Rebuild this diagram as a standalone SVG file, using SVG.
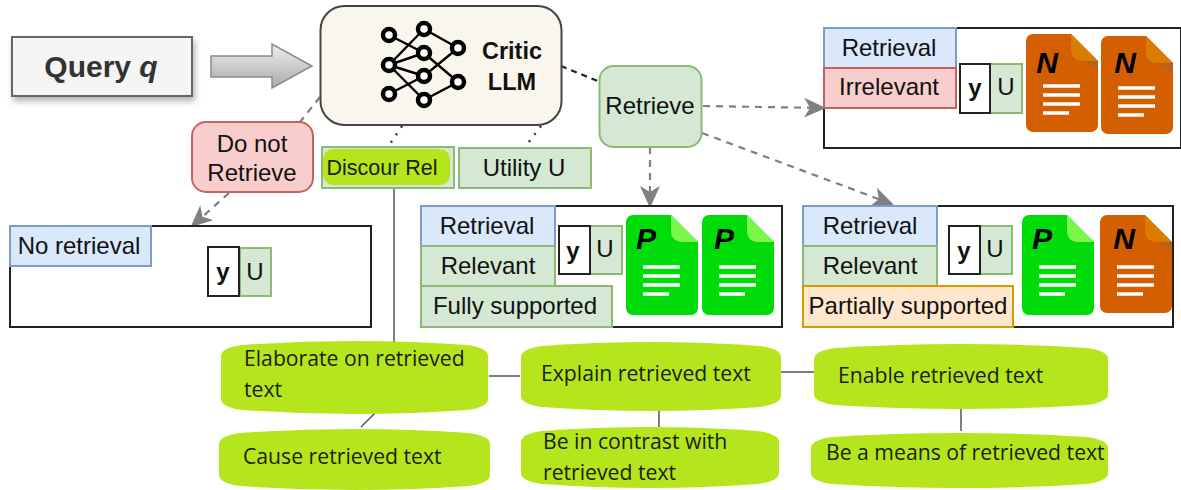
<svg xmlns="http://www.w3.org/2000/svg" width="1181" height="490" viewBox="0 0 1181 490">
<style>
text{font-family:"Liberation Sans",Arial,sans-serif;fill:#111;text-anchor:middle}
.t24{font-size:24px}
.lime{fill:#b5e61d}
.lt{font-family:"Open Sans","Noto Sans",sans-serif;font-size:21.200px;text-anchor:start;fill:#1a2200}
.blue{fill:#dae8fc;stroke:#7c9dcc;stroke-width:2}
.green{fill:#d5e8d4;stroke:#8cb975;stroke-width:2}
.red{fill:#f8cecc;stroke:#c46460;stroke-width:2}
.orange{fill:#ffe6cc;stroke:#d79b00;stroke-width:2}
.frame{fill:#fff;stroke:#222;stroke-width:2}
.yb{fill:#fff;stroke:#222;stroke-width:2}
.y{font-weight:bold;font-size:24px}
.dl{font-weight:bold;font-style:italic;font-size:30px;fill:#000}
.gd{fill:none;stroke:#808080;stroke-width:2.2;stroke-dasharray:7 6}
.bd{fill:none;stroke:#222;stroke-width:2.2;stroke-dasharray:6 5}
.dot{fill:none;stroke:#333;stroke-width:2.4;stroke-dasharray:2 7}
.sl{fill:none;stroke:#555;stroke-width:1.5}
.net{fill:none;stroke:#000;stroke-width:2.4}
.nd{fill:#fff;stroke:#000;stroke-width:4.500px}
.rule{stroke:#fff;stroke-width:3.5;fill:none}
</style>
<defs>
<linearGradient id="ag" x1="0" y1="0" x2="0" y2="1"><stop offset="0" stop-color="#efefef"/><stop offset="1" stop-color="#a9a9a9"/></linearGradient>
<filter id="sh" x="-10%" y="-10%" width="125%" height="130%"><feDropShadow dx="2" dy="4" stdDeviation="3" flood-color="#000" flood-opacity="0.3"/></filter>
<marker id="ah" markerWidth="22" markerHeight="20" refX="20" refY="10" orient="auto" markerUnits="userSpaceOnUse"><path d="M0 0L22 10L0 20L6 10Z" fill="#808080"/></marker>
<g id="docN"><path d="M7 0H45L72 27V91a7 7 0 0 1-7 7H7a7 7 0 0 1-7-7V7a7 7 0 0 1 7-7Z" fill="#d35f00"/><path d="M45 18a9 9 0 0 0 9 9H72V36Z" fill="#a9652a" opacity=".85"/><path d="M45 0V17a10 10 0 0 0 10 10H72Z" fill="#d97c00"/><path class="rule" d="M17 52H54M17 61H54M17 70H54M17 79H43"/></g>
<g id="docP"><path d="M7 0H45L72 27V93a7 7 0 0 1-7 7H7a7 7 0 0 1-7-7V7a7 7 0 0 1 7-7Z" fill="#00dc0a"/><path d="M45 0L72 27H55a10 10 0 0 1-10-10Z" fill="#7cf54c"/><path class="rule" d="M17 52H54M17 61H54M17 70H54M17 79H43"/></g>
</defs>

<g id="connectors">
<path class="gd" d="M320 97L300 122"/>
<path class="gd" d="M229 193L192 226" marker-end="url(#ah)"/>
<path class="bd" d="M561 66L600 82"/>
<path class="dot" d="M402 126L388 147"/>
<path class="dot" d="M541 126L525 147"/>
<path class="gd" d="M703 106L824 108" marker-end="url(#ah)"/>
<path class="gd" d="M650 147V206" marker-end="url(#ah)"/>
<path class="gd" d="M702 133L892 204" marker-end="url(#ah)"/>
<path class="sl" d="M394 188V343M489 376H520M780 372H814M375 413L361 427M659 410V427M961 409V431"/>
</g>

<g id="query"><rect x="12" y="37" width="180" height="59" fill="#f5f5f5" stroke="#666" stroke-width="2" filter="url(#sh)"/><text x="101" y="77" font-size="30" font-weight="bold" style="fill:#333">Query <tspan font-style="italic">q</tspan></text></g>
<g id="bigarrow"><path d="M211 56H272V44L312 66L272 88V77H211Z" fill="url(#ag)" stroke="#8a8a8a" stroke-width="1.5"/></g>

<g id="critic"><rect x="320.500" y="6" width="241" height="119" rx="24" fill="#f9f7ed" stroke="#444" stroke-width="2"/>
<path class="net" d="M389 35L424 53L458 82M424 29L389 65M424 29L458 48M389 65L424 53M389 65L424 76M389 65L424 100M389 94L424 76L458 48M424 100L458 82"/>
<g class="nd"><circle cx="389" cy="35" r="6"/><circle cx="424" cy="29" r="6"/><circle cx="458" cy="48" r="6"/><circle cx="424" cy="53" r="6"/><circle cx="389" cy="65" r="6"/><circle cx="424" cy="76" r="6"/><circle cx="458" cy="82" r="6"/><circle cx="389" cy="94" r="6"/><circle cx="424" cy="100" r="6"/></g>
<text x="512" y="59" font-size="23.500" font-weight="bold">Critic</text><text x="512" y="90" font-size="23.500" font-weight="bold">LLM</text></g>

<g id="donot"><rect x="192" y="122" width="121" height="70" rx="14" class="red"/><text class="t24" x="252" y="152">Do not</text><text class="t24" x="252" y="181">Retrieve</text></g>
<g id="discour"><rect x="322" y="147" width="132" height="41" class="green"/><rect x="323" y="149" width="127" height="36" rx="10" class="lime"/><text x="382" y="175" font-size="21.500" style="fill:#1a2200">Discour Rel</text></g>
<g id="utility"><rect x="459" y="148" width="132" height="40" class="green"/><text class="t24" x="524" y="176">Utility U</text></g>
<g id="retrieve"><rect x="599.500" y="66" width="102" height="81" rx="14" class="green"/><text class="t24" x="650" y="114">Retrieve</text></g>

<g id="box-irrelevant"><rect x="824" y="28" width="357" height="120" class="frame"/>
<rect x="824" y="28" width="132" height="40" class="blue"/><text class="t24" x="889" y="56">Retrieval</text>
<rect x="824" y="68" width="132" height="40" class="red"/><text class="t24" x="889" y="95">Irrelevant</text>
<rect x="990" y="64" width="32" height="49" class="green"/><text class="t24" x="1006" y="95">U</text>
<rect x="960" y="64" width="30" height="49" class="yb"/><text class="y" x="975" y="96">y</text>
<use href="#docN" x="1026" y="34"/><text class="dl" x="1047" y="73">N</text>
<use href="#docN" x="1101" y="36"/><text class="dl" x="1125" y="73">N</text></g>

<g id="box-fully"><rect x="421" y="206" width="361" height="121" class="frame"/>
<rect x="421" y="206" width="134" height="40" class="blue"/><text class="t24" x="487" y="234">Retrieval</text>
<rect x="421" y="246" width="134" height="40" class="green"/><text class="t24" x="488" y="274">Relevant</text>
<rect x="421" y="286" width="191" height="41" class="green"/><text class="t24" x="515" y="314">Fully supported</text>
<rect x="590" y="226" width="32" height="48" class="green"/><text class="t24" x="605" y="257">U</text>
<rect x="559" y="226" width="31" height="48" class="yb"/><text class="y" x="573" y="259">y</text>
<use href="#docP" x="626" y="215"/><text class="dl" x="646" y="249">P</text>
<use href="#docP" x="702" y="215"/><text class="dl" x="724" y="249">P</text></g>

<g id="box-partial"><rect x="803" y="206" width="370" height="121" class="frame"/>
<rect x="803" y="206" width="134" height="40" class="blue"/><text class="t24" x="870" y="234">Retrieval</text>
<rect x="803" y="246" width="134" height="40" class="green"/><text class="t24" x="870" y="274">Relevant</text>
<rect x="803" y="286" width="210" height="41" class="orange"/><text class="t24" x="908" y="314">Partially supported</text>
<rect x="980" y="226" width="32" height="48" class="green"/><text class="t24" x="995" y="257">U</text>
<rect x="949" y="226" width="31" height="48" class="yb"/><text class="y" x="964" y="259">y</text>
<use href="#docP" x="1022" y="215"/><text class="dl" x="1042" y="249">P</text>
<use href="#docN" x="1100" y="215"/><text class="dl" x="1124" y="249">N</text></g>

<g id="box-none"><rect x="10" y="226" width="361" height="101" class="frame"/>
<rect x="10" y="226" width="141" height="40" class="blue"/><text class="t24" x="79" y="254">No retrieval</text>
<rect x="240" y="248" width="31" height="48" class="green"/><text class="t24" x="255" y="280">U</text>
<rect x="208" y="247" width="31" height="49" class="yb"/><text class="y" x="223" y="280">y</text></g>

<g id="n-elaborate"><path class="lime" d="M221 356Q221 348 242 345Q355 337 467 345Q488 348 488 356V399Q488 407 467 410Q355 418 242 410Q221 407 221 399Z"/><text class="lt" x="244" y="366">Elaborate on retrieved</text><text class="lt" x="244" y="397">text</text></g>
<g id="n-explain"><path class="lime" d="M521 357Q521 349 542 346Q651 338 760 346Q781 349 781 357V396Q781 404 760 407Q651 415 542 407Q521 404 521 396Z"/><text class="lt" x="541" y="381">Explain retrieved text</text></g>
<g id="n-enable"><path class="lime" d="M814 359Q814 351 835 348Q961 340 1087 348Q1108 351 1108 359V394Q1108 402 1087 405Q961 413 835 405Q814 402 814 394Z"/><text class="lt" x="838" y="383">Enable retrieved text</text></g>
<g id="n-cause"><path class="lime" d="M219 444Q219 436 240 433Q355 425 469 433Q490 436 490 444V475Q490 483 469 486Q355 494 240 486Q219 483 219 475Z"/><text class="lt" x="243" y="464">Cause retrieved text</text></g>
<g id="n-contrast"><path class="lime" d="M521 442Q521 434 542 431Q650 423 758 431Q779 434 779 442V473Q779 481 758 484Q650 492 542 484Q521 481 521 473Z"/><text class="lt" x="543" y="449">Be in contrast with</text><text class="lt" x="543" y="480">retrieved text</text></g>
<g id="n-means"><path class="lime" d="M811 448Q811 440 832 437Q960 429 1087 437Q1108 440 1108 448V473Q1108 481 1087 484Q960 492 832 484Q811 481 811 473Z"/><text class="lt" x="826" y="460">Be a means of retrieved text</text></g>
</svg>
